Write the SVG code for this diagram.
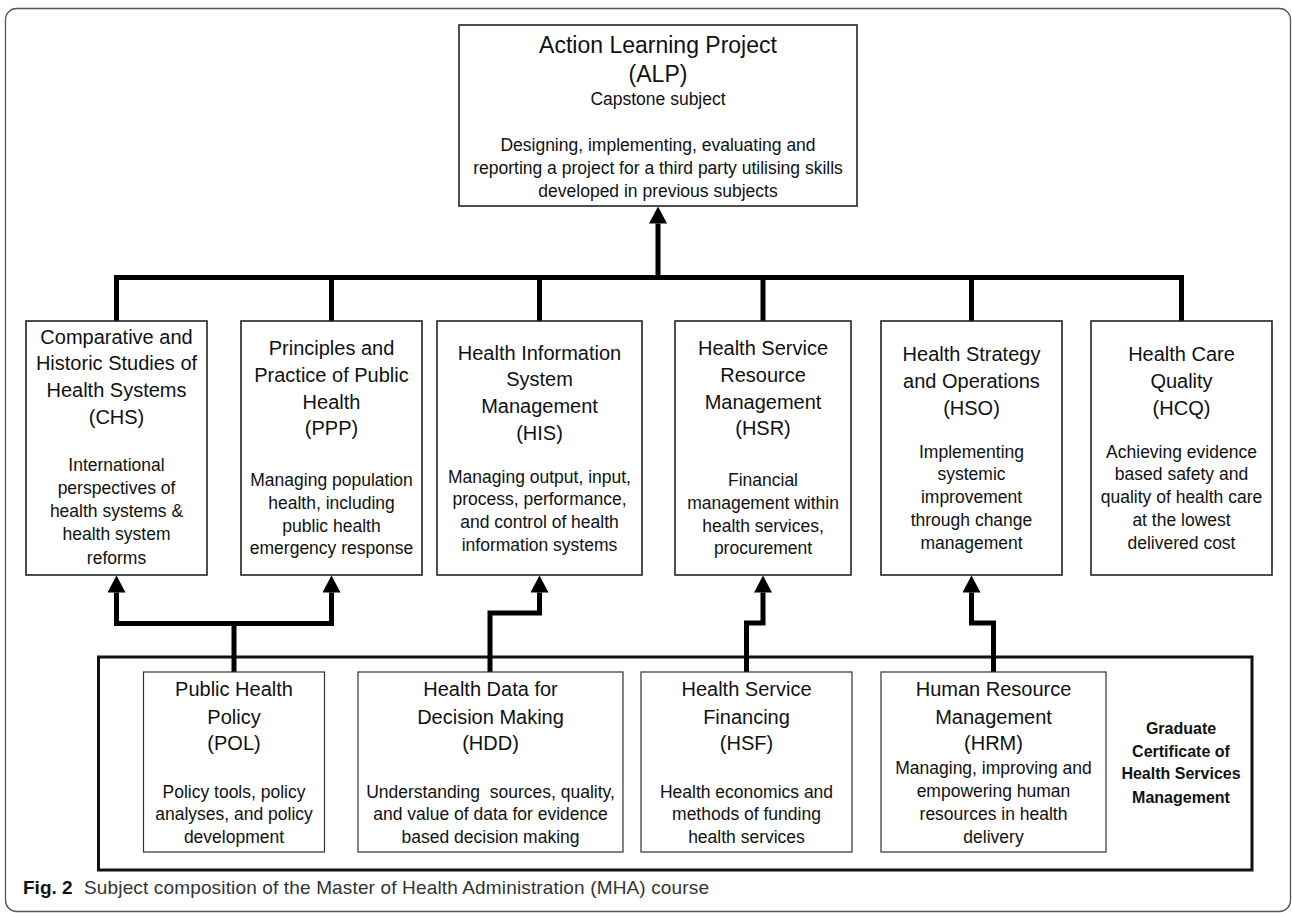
<svg xmlns="http://www.w3.org/2000/svg" width="1292" height="913" viewBox="0 0 1292 913">
<style>
.box{fill:#fff;stroke:#222;stroke-width:1.6}
.sbox{fill:#fff;stroke:#333;stroke-width:1.2}
.grp{fill:none;stroke:#111;stroke-width:3}
.t{font-family:"Liberation Sans",Arial,sans-serif;font-size:20px;fill:#111;text-anchor:middle}
.d{font-family:"Liberation Sans",Arial,sans-serif;font-size:17.5px;fill:#111;text-anchor:middle}
.big{font-family:"Liberation Sans",Arial,sans-serif;font-size:23px;fill:#111;text-anchor:middle}
.b{font-family:"Liberation Sans",Arial,sans-serif;font-size:16px;font-weight:bold;fill:#111;text-anchor:middle}
.con{fill:none;stroke:#000;stroke-width:5;stroke-linejoin:miter;stroke-linecap:butt}
.cap{font-family:"Liberation Sans",Arial,sans-serif;font-size:19px;fill:#333}
</style>
<defs>
<marker id="ah" markerUnits="userSpaceOnUse" markerWidth="17" markerHeight="18" viewBox="0 0 17 18" refX="0" refY="9" orient="auto">
<path d="M0,0 L17,9 L0,18 z" fill="#000"/>
</marker>
</defs>
<rect x="5.5" y="8.5" width="1285" height="903" rx="11" ry="11" fill="#fff" stroke="#555" stroke-width="1.3"/>

<g id="graduate-certificate">
<rect class="grp" x="98.5" y="657" width="1153.5" height="213"/>
<text class="b" x="1181" y="734">Graduate</text>
<text class="b" x="1181" y="757">Certificate of</text>
<text class="b" x="1181" y="779">Health Services</text>
<text class="b" x="1181" y="803">Management</text>
</g>

<g id="connectors">
<path class="con" d="M116.5,321 V277.5 H1181.5 V321"/>
<path class="con" d="M331.5,277.5 V321"/>
<path class="con" d="M539.5,277.5 V321"/>
<path class="con" d="M763,277.5 V321"/>
<path class="con" d="M971.5,277.5 V321"/>
<path class="con" d="M658,280 V223.5" marker-end="url(#ah)"/>
<path class="con" d="M234,672 V621"/>
<path class="con" d="M234,623.5 H116.5 V592.5" marker-end="url(#ah)"/>
<path class="con" d="M234,623.5 H331.5 V592.5" marker-end="url(#ah)"/>
<path class="con" d="M490,672 V613 H539.5 V592.5" marker-end="url(#ah)"/>
<path class="con" d="M746.5,672 V623 H763 V592.5" marker-end="url(#ah)"/>
<path class="con" d="M993.5,672 V623 H971.5 V592.5" marker-end="url(#ah)"/>
</g>

<g id="ALP">
<rect class="box" x="459" y="25" width="398" height="181"/>
<text class="big" x="658" y="53">Action Learning Project</text>
<text class="big" x="658" y="82">(ALP)</text>
<text class="d" x="658" y="105">Capstone subject</text>
<text class="d" x="658" y="151">Designing, implementing, evaluating and</text>
<text class="d" x="658" y="174">reporting a project for a third party utilising skills</text>
<text class="d" x="658" y="197">developed in previous subjects</text>
</g>

<g id="CHS">
<rect class="box" x="26" y="321" width="181" height="254"/>
<text class="t" x="116.5" y="344">Comparative and</text>
<text class="t" x="116.5" y="370">Historic Studies of</text>
<text class="t" x="116.5" y="397">Health Systems</text>
<text class="t" x="116.5" y="424">(CHS)</text>
<text class="d" x="116.5" y="471">International</text>
<text class="d" x="116.5" y="494">perspectives of</text>
<text class="d" x="116.5" y="517">health systems &amp;</text>
<text class="d" x="116.5" y="540">health system</text>
<text class="d" x="116.5" y="564">reforms</text>
</g>

<g id="PPP">
<rect class="box" x="241" y="321" width="181" height="254"/>
<text class="t" x="331.5" y="355">Principles and</text>
<text class="t" x="331.5" y="382">Practice of Public</text>
<text class="t" x="331.5" y="409">Health</text>
<text class="t" x="331.5" y="435">(PPP)</text>
<text class="d" x="331.5" y="486">Managing population</text>
<text class="d" x="331.5" y="509">health, including</text>
<text class="d" x="331.5" y="532">public health</text>
<text class="d" x="331.5" y="554">emergency response</text>
</g>

<g id="HIS">
<rect class="box" x="437" y="321" width="205" height="254"/>
<text class="t" x="539.5" y="360">Health Information</text>
<text class="t" x="539.5" y="386">System</text>
<text class="t" x="539.5" y="413">Management</text>
<text class="t" x="539.5" y="440">(HIS)</text>
<text class="d" x="539.5" y="483">Managing output, input,</text>
<text class="d" x="539.5" y="505">process, performance,</text>
<text class="d" x="539.5" y="528">and control of health</text>
<text class="d" x="539.5" y="551">information systems</text>
</g>

<g id="HSR">
<rect class="box" x="675" y="321" width="176" height="254"/>
<text class="t" x="763" y="355">Health Service</text>
<text class="t" x="763" y="382">Resource</text>
<text class="t" x="763" y="409">Management</text>
<text class="t" x="763" y="435">(HSR)</text>
<text class="d" x="763" y="486">Financial</text>
<text class="d" x="763" y="509">management within</text>
<text class="d" x="763" y="532">health services,</text>
<text class="d" x="763" y="554">procurement</text>
</g>

<g id="HSO">
<rect class="box" x="881" y="321" width="181" height="254"/>
<text class="t" x="971.5" y="361">Health Strategy</text>
<text class="t" x="971.5" y="388">and Operations</text>
<text class="t" x="971.5" y="415">(HSO)</text>
<text class="d" x="971.5" y="458">Implementing</text>
<text class="d" x="971.5" y="480">systemic</text>
<text class="d" x="971.5" y="503">improvement</text>
<text class="d" x="971.5" y="526">through change</text>
<text class="d" x="971.5" y="549">management</text>
</g>

<g id="HCQ">
<rect class="box" x="1091" y="321" width="181" height="254"/>
<text class="t" x="1181.5" y="361">Health Care</text>
<text class="t" x="1181.5" y="388">Quality</text>
<text class="t" x="1181.5" y="415">(HCQ)</text>
<text class="d" x="1181.5" y="458">Achieving evidence</text>
<text class="d" x="1181.5" y="480">based safety and</text>
<text class="d" x="1181.5" y="503">quality of health care</text>
<text class="d" x="1181.5" y="526">at the lowest</text>
<text class="d" x="1181.5" y="549">delivered cost</text>
</g>

<g id="POL">
<rect class="sbox" x="143.5" y="672" width="181" height="180"/>
<text class="t" x="234" y="696">Public Health</text>
<text class="t" x="234" y="724">Policy</text>
<text class="t" x="234" y="750">(POL)</text>
<text class="d" x="234" y="798">Policy tools, policy</text>
<text class="d" x="234" y="820">analyses, and policy</text>
<text class="d" x="234" y="843">development</text>
</g>

<g id="HDD">
<rect class="sbox" x="358" y="672" width="265" height="180"/>
<text class="t" x="490.5" y="696">Health Data for</text>
<text class="t" x="490.5" y="724">Decision Making</text>
<text class="t" x="490.5" y="750">(HDD)</text>
<text class="d" x="490.5" y="798" style="white-space:pre">Understanding  sources, quality,</text>
<text class="d" x="490.5" y="820">and value of data for evidence</text>
<text class="d" x="490.5" y="843">based decision making</text>
</g>

<g id="HSF">
<rect class="sbox" x="641" y="672" width="211" height="180"/>
<text class="t" x="746.5" y="696">Health Service</text>
<text class="t" x="746.5" y="724">Financing</text>
<text class="t" x="746.5" y="750">(HSF)</text>
<text class="d" x="746.5" y="798">Health economics and</text>
<text class="d" x="746.5" y="820">methods of funding</text>
<text class="d" x="746.5" y="843">health services</text>
</g>

<g id="HRM">
<rect class="sbox" x="881" y="672" width="225" height="180"/>
<text class="t" x="993.5" y="696">Human Resource</text>
<text class="t" x="993.5" y="724">Management</text>
<text class="t" x="993.5" y="750">(HRM)</text>
<text class="d" x="993.5" y="774">Managing, improving and</text>
<text class="d" x="993.5" y="797">empowering human</text>
<text class="d" x="993.5" y="820">resources in health</text>
<text class="d" x="993.5" y="843">delivery</text>
</g>

<g id="caption">
<text class="cap" x="23" y="894"><tspan font-weight="bold" fill="#111">Fig. 2</tspan><tspan x="84" textLength="625">Subject composition of the Master of Health Administration (MHA) course</tspan></text>
</g>
</svg>
